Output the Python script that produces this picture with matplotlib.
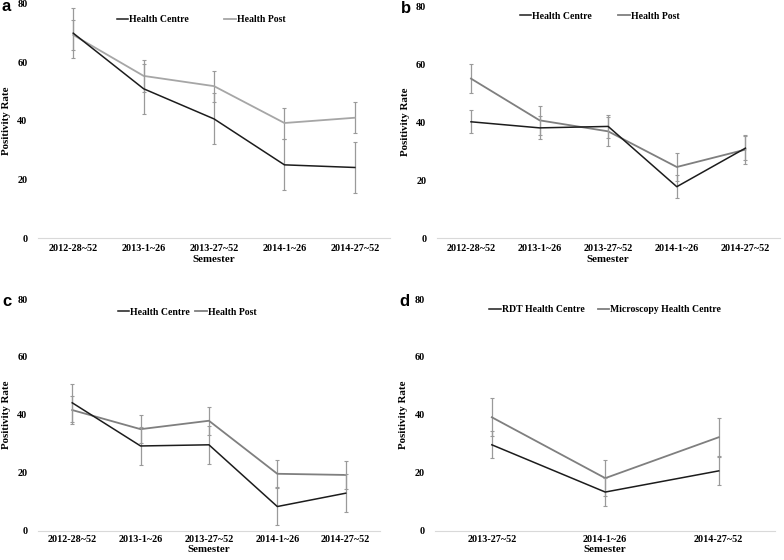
import matplotlib
matplotlib.use("Agg")
from matplotlib import pyplot as plt

semesters = ["2012-28~52", "2013-1~26", "2013-27~52", "2014-1~26", "2014-27~52"]
semesters_d = ["2013-27~52", "2014-1~26", "2014-27~52"]

# panel a
a_centre = [70.0, 51.0, 40.7, 25.0, 24.1]
a_centre_err = [8.6, 8.6, 8.7, 8.7, 8.7]
a_post = [69.4, 55.4, 51.9, 39.3, 41.1]
a_post_err = [5.2, 5.4, 5.3, 5.3, 5.3]

# panel b
b_centre = [40.1, 38.0, 38.5, 17.7, 31.0]
b_centre_err = [4.0, 4.0, 4.0, 4.0, 4.2]
b_post = [55.0, 40.6, 36.8, 24.5, 30.5]
b_post_err = [5.1, 5.1, 5.0, 5.0, 5.0]

# panel c
c_centre = [44.2, 29.3, 29.7, 8.4, 13.0]
c_centre_err = [6.5, 6.5, 6.5, 6.5, 6.5]
c_post = [41.7, 35.1, 38.0, 19.7, 19.3]
c_post_err = [4.8, 4.8, 4.9, 4.7, 4.8]

# panel d
d_rdt = [29.7, 13.4, 20.7]
d_rdt_err = [4.7, 4.7, 4.8]
d_micro = [39.2, 18.2, 32.3]
d_micro_err = [6.5, 6.2, 6.5]

serif = ["Liberation Serif", "DejaVu Serif"]
plt.rcParams["font.family"] = serif
plt.rcParams["font.weight"] = "bold"
plt.rcParams["font.size"] = 7.3

fig = plt.figure(figsize=(7.84, 5.6), dpi=100)


def draw_panel(rect, letter, cats, s1, e1, s2, e2, labels, c2, leg_x, leg_y, colsp, xpad):
	ax = fig.add_axes(rect)
	x = list(range(len(cats)))
	ax.errorbar(x, s1, yerr=e1, color="#1c1c1c", ecolor="#9a9a9a", elinewidth=0.9,
		capsize=1.5, capthick=0.8, lw=1.1, label=labels[0], zorder=3)
	ax.errorbar(x, s2, yerr=e2, color=c2, ecolor="#9a9a9a", elinewidth=0.9,
		capsize=1.5, capthick=0.8, lw=1.3, label=labels[1], zorder=2)
	ax.set_xlim(-0.5, len(cats) - 0.5)
	ax.set_ylim(0, 80)
	ax.set_yticks([0, 20, 40, 60, 80])
	ax.set_xticks(x)
	ax.set_xticklabels(cats)
	for s in ["top", "right", "left"]:
		ax.spines[s].set_visible(False)
	ax.spines["bottom"].set_color("#d9d9d9")
	ax.spines["bottom"].set_linewidth(0.8)
	ax.tick_params(axis="y", length=0, pad=7.5)
	ax.tick_params(axis="x", length=0, pad=xpad)
	ax.set_xlabel("Semester", fontweight="bold", fontsize=7.8, labelpad=1)
	ax.set_ylabel("Positivity Rate", fontweight="bold", fontsize=7.8, labelpad=4.5)
	h, l = ax.get_legend_handles_labels()
	h = [hh[0] for hh in h]
	ax.legend(h, l, loc="center", bbox_to_anchor=(leg_x, leg_y), ncol=2, frameon=False,
		handlelength=1.2, handletextpad=0.1, columnspacing=colsp, prop={"weight": "bold", "size": 7})
	fig.text(rect[0] - 0.046, rect[1] + rect[3] - 0.005, letter, fontsize=12, fontweight="bold",
		family=["Liberation Sans", "DejaVu Sans"], va="center")
	return ax


draw_panel([0.0485, 0.575, 0.449, 0.418], "a", semesters, a_centre, a_centre_err,
	a_post, a_post_err, ["Health Centre", "Health Post"], "#a6a6a6", 0.463, 0.932, 3.6, 4.5)
draw_panel([0.557, 0.575, 0.4375, 0.414], "b", semesters, b_centre, b_centre_err,
	b_post, b_post_err, ["Health Centre", "Health Post"], "#7f7f7f", 0.475, 0.957, 2.7, 4.5)
draw_panel([0.0485, 0.052, 0.436, 0.414], "c", semesters, c_centre, c_centre_err,
	c_post, c_post_err, ["Health Centre", "Health Post"], "#7f7f7f", 0.436, 0.944, 0.5, 3)
draw_panel([0.555, 0.052, 0.434, 0.414], "d", semesters_d, d_rdt, d_rdt_err,
	d_micro, d_micro_err, ["RDT Health Centre", "Microscopy Health Centre"], "#7f7f7f", 0.5, 0.953, 1.3, 3)

fig.savefig("out.png", dpi=100)
